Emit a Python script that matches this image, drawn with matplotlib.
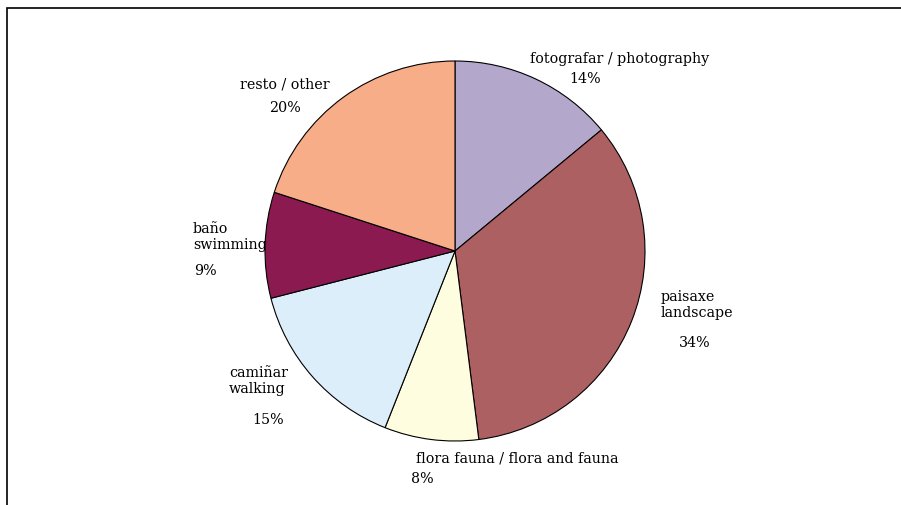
import matplotlib
matplotlib.use("Agg")
import matplotlib.pyplot as plt
from matplotlib.patches import Rectangle

# slice data (clockwise from 12 o'clock)
labels = ["fotografar / photography", "paisaxe\nlandscape", "flora fauna / flora and fauna",
          "camiñar\nwalking", "baño\nswimming", "resto / other"]
values = [14, 34, 8, 15, 9, 20]
colors = ["#B3A8CC", "#AD6062", "#FEFDDF", "#DDEEFB", "#8B1A50", "#F7AD88"]

W, H = 901, 506
fig = plt.figure(figsize=(W / 100, H / 100), dpi=100)
plt.rcParams['font.family'] = ['DejaVu Serif']

cx, cy, r = 455, 252, 190
ax = fig.add_axes([(cx - r) / W, (H - cy - r) / H, 2 * r / W, 2 * r / H])
ax.pie(values, colors=colors, startangle=90, counterclock=False,
       wedgeprops=dict(edgecolor='black', linewidth=0.8))
ax.set_xlim(-1.0, 1.0)
ax.set_ylim(-1.0, 1.0)
ax.set_aspect('equal')
ax.axis('off')

# frame (top and left visible, right/bottom run off the image)
fig.patches.append(Rectangle((7 / W, -0.1), 1.1, (H - 9) / H + 0.1, transform=fig.transFigure,
                             fill=False, edgecolor='black', linewidth=1.2))

# label placement in pixel coords: (text x, text y, pct x, pct y, text align)
label_pos = [(530, 59, 585, 79, 'left'),
             (661, 305, 695, 343, 'left'),
             (416, 459, 422, 479, 'left'),
             (229, 381, 268, 420, 'left'),
             (193, 237, 205, 271, 'left'),
             (285, 84, 285, 108, 'center')]

fs = 10.3
for lab, v, (tx, ty, px, py, ha) in zip(labels, values, label_pos):
    fig.text(tx / W, 1 - ty / H, lab, ha=ha, va='center', fontsize=fs,
             color='black', linespacing=1.2)
    fig.text(px / W, 1 - py / H, f"{v}%", ha='center', va='center', fontsize=fs,
             color='black')

fig.savefig("out.png", dpi=100, facecolor='white')
